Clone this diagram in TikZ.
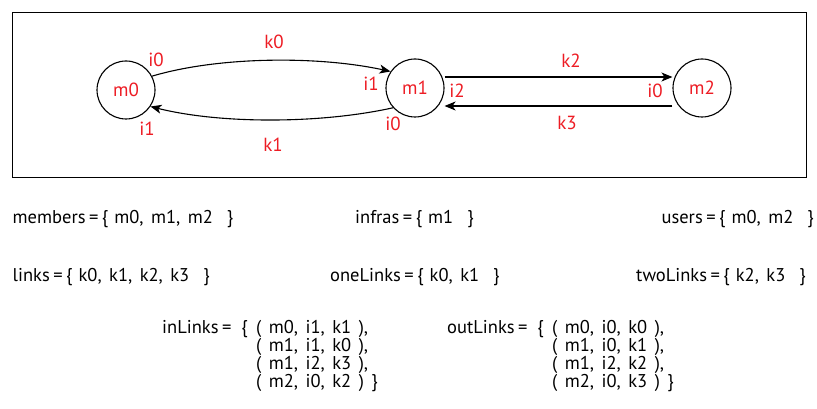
\documentclass[tikz,border=0pt]{standalone}
\usepackage{fontspec}
\setmainfont{PT Sans}
\usetikzlibrary{arrows.meta}
\definecolor{lblred}{RGB}{237,28,36}
\newcommand\eqsg{\hspace{3.5pt}=\hspace{3.5pt}}
\newcommand\sA{\hspace{6pt}}
\newcommand\sB{\hspace{7.5pt}}
\newcommand\sC{\hspace{14pt}}
\begin{document}
\begin{tikzpicture}[x=1pt,y=-1pt,
  font=\fontsize{18.5}{18}\selectfont,
  state/.style={circle,draw,line width=1.1pt,minimum size=58pt,inner sep=0pt,text=lblred,font=\fontsize{19}{19}\selectfont},
  lbl/.style={text=lblred,inner sep=0pt,font=\fontsize{19}{19}\selectfont},
  txt/.style={inner sep=0pt,anchor=base west,text height=13pt,text depth=4pt},
  link/.style={line width=1.1pt,-{Stealth[length=11pt,width=9pt,inset=3pt]}}]
\useasboundingbox (0,0) rectangle (817,409);
\draw[line width=0.9pt] (12,12) rectangle (806,177);
\node[state] (m0) at (126,90) {m0};
\node[state] (m1) at (415,88) {m1};
\node[state] (m2) at (702,88) {m2};
\draw[link] (m0.28) .. controls (220,56) and (320,56) .. (m1.146);
\draw[link] (m1.222) .. controls (320,124) and (220,124) .. (m0.326);
\draw[link] (m1.east |- 0,77) coordinate (a) -- (m2.west |- a);
\draw[link] (m2.west |- 0,106) coordinate (b) -- (m1.east |- b);
\node[lbl] (k0) at (274,41.5) {k0};
\node[lbl] (k1) at (273,145) {k1};
\node[lbl] (k2) at (571,61) {k2};
\node[lbl] (k3) at (567,123) {k3};
\node[lbl] (a0) at (156,60) {i0};
\node[lbl] (a1) at (147,129) {i1};
\node[lbl] (b1) at (371,84) {i1};
\node[lbl] (b0) at (393,123.5) {i0};
\node[lbl] (b2) at (457,91) {i2};
\node[lbl] (c0) at (655,91) {i0};
\node[txt] (t1) at (12.5,223) {members\eqsg\{\sA m0,\sB m1,\sB m2\sC\}};
\node[txt] (t2) at (355,223) {infras\eqsg\{\sA m1\sC\}};
\node[txt,anchor=base east] (t3) at (814,223) {users\eqsg\{\sA m0,\sB m2\sC\}};
\node[txt] (t4) at (12.5,281) {links\eqsg\{\sA k0,\sB k1,\sB k2,\sB k3\sC\}};
\node[txt] (t5) at (330,281) {oneLinks\eqsg\{\sA k0,\sB k1\sC\}};
\node[txt,anchor=base east] (t6) at (806,281) {twoLinks\eqsg\{\sA k2,\sB k3\sC\}};
\node[txt] (iL) at (162,333) {inLinks\eqsg};
\node[txt,anchor=base east] (iB) at (248,333) {\{};
\node[txt] (i1) at (256,333) {(\sB m0,\sB i1,\sB k1\sB),};
\node[txt] (i2) at (256,351) {(\sB m1,\sB i1,\sB k0\sB),};
\node[txt] (i3) at (256,369) {(\sB m1,\sB i2,\sB k3\sB),};
\node[txt] (i4) at (256,387) {(\sB m2,\sB i0,\sB k2\sB)\sB\}};
\node[txt] (oL) at (447,333) {outLinks\eqsg};
\node[txt,anchor=base east] (oB) at (544,333) {\{};
\node[txt] (o1) at (552,333) {(\sB m0,\sB i0,\sB k0\sB),};
\node[txt] (o2) at (552,351) {(\sB m1,\sB i0,\sB k1\sB),};
\node[txt] (o3) at (552,369) {(\sB m1,\sB i2,\sB k2\sB),};
\node[txt] (o4) at (552,387) {(\sB m2,\sB i0,\sB k3\sB)\sB\}};
\end{tikzpicture}
\end{document}
